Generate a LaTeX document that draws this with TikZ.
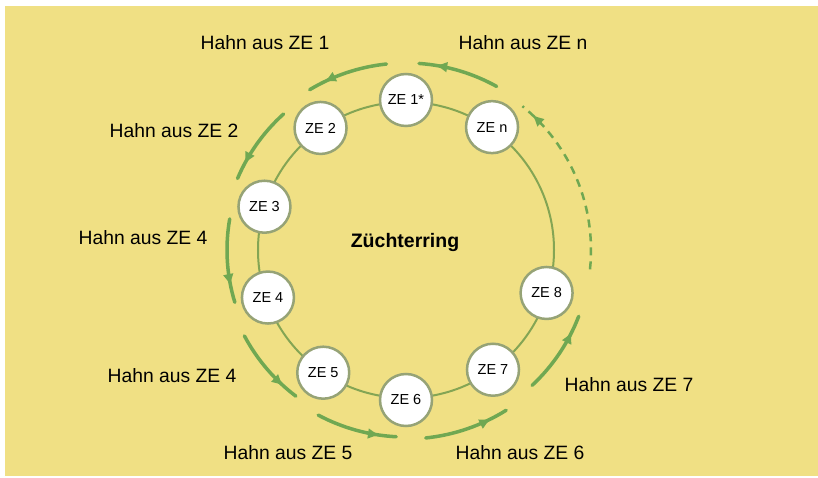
\documentclass[tikz,border=0pt]{standalone}
\usepackage{fontspec}
\setmainfont{Liberation Sans}
\usetikzlibrary{arrows.meta,decorations.markings}

\definecolor{ringgelb}{RGB}{240,224,132}
\definecolor{pfeilgruen}{RGB}{112,168,82}
\definecolor{ringgruen}{RGB}{132,165,84}
\definecolor{randgrau}{RGB}{150,163,118}

\tikzset{
	zuchteinheit/.style={circle,draw=randgrau,line width=2.5pt,fill=white,
		minimum size=52pt,inner sep=0pt,font=\fontsize{14.5}{16}\selectfont},
	hahntext/.style={font=\fontsize{19.3}{22}\selectfont},
	hahnbogen/.style={draw=pfeilgruen,line width=3.5pt,line cap=round},
	hahnspitze/.style={postaction={decorate},
		decoration={markings,mark=at position #1 with
			{\arrow[pfeilgruen]{Latex[length=12pt,width=11pt]}}}}
}

\begin{document}
\begin{tikzpicture}[x=1pt,y=1pt]
	% page size and yellow background
	\useasboundingbox (-406,-228) rectangle (412,250);
	\fill[ringgelb] (-401,-226) rectangle (412,244);
	% the ring itself
	\draw[ringgruen,line width=2pt] (0,0) circle[radius=148];
	% breeding units on the ring
	\node[zuchteinheit] (ze1) at (90:150) {ZE 1*};
	\node[zuchteinheit] (ze2) at (125:149) {ZE 2};
	\node[zuchteinheit] (ze3) at (163:148) {ZE 3};
	\node[zuchteinheit] (ze4) at (199:146) {ZE 4};
	\node[zuchteinheit] (ze5) at (236:148) {ZE 5};
	\node[zuchteinheit] (ze6) at (270:150) {ZE 6};
	\node[zuchteinheit] (ze7) at (306:148) {ZE 7};
	\node[zuchteinheit] (ze8) at (343:147) {ZE 8};
	\node[zuchteinheit] (zen) at (55:150) {ZE n};
	\node[font=\fontsize{19.5}{22}\selectfont\bfseries] (ring) at (-1,7) {Züchterring};
	% where the cocks go: outer arcs, counterclockwise
	\foreach \a/\b/\r in {61/86/187,96/121/187,132/157/183,170/197/179,
		208/233/183,242/267/187,276/302/189,313/339/185}
		\draw[hahnbogen,hahnspitze=0.8] (\a:\r) arc[start angle=\a, end angle=\b, radius=\r];
	\draw[hahnbogen,hahnspitze=0.93,line width=2.5pt,line cap=butt,
		dash pattern=on 8pt off 6pt]
		(-6:185) arc[start angle=-6, end angle=51, radius=185];
	% labels
	\node[hahntext] (h1) at (-141,207) {Hahn aus ZE 1};
	\node[hahntext] (hn) at (117,207) {Hahn aus ZE n};
	\node[hahntext] (h2) at (-232,119) {Hahn aus ZE 2};
	\node[hahntext] (h3) at (-263,12) {Hahn aus ZE 4};
	\node[hahntext] (h4) at (-234,-126) {Hahn aus ZE 4};
	\node[hahntext] (h5) at (-118,-203) {Hahn aus ZE 5};
	\node[hahntext] (h6) at (114,-203) {Hahn aus ZE 6};
	\node[hahntext] (h7) at (223,-135) {Hahn aus ZE 7};
\end{tikzpicture}
\end{document}
